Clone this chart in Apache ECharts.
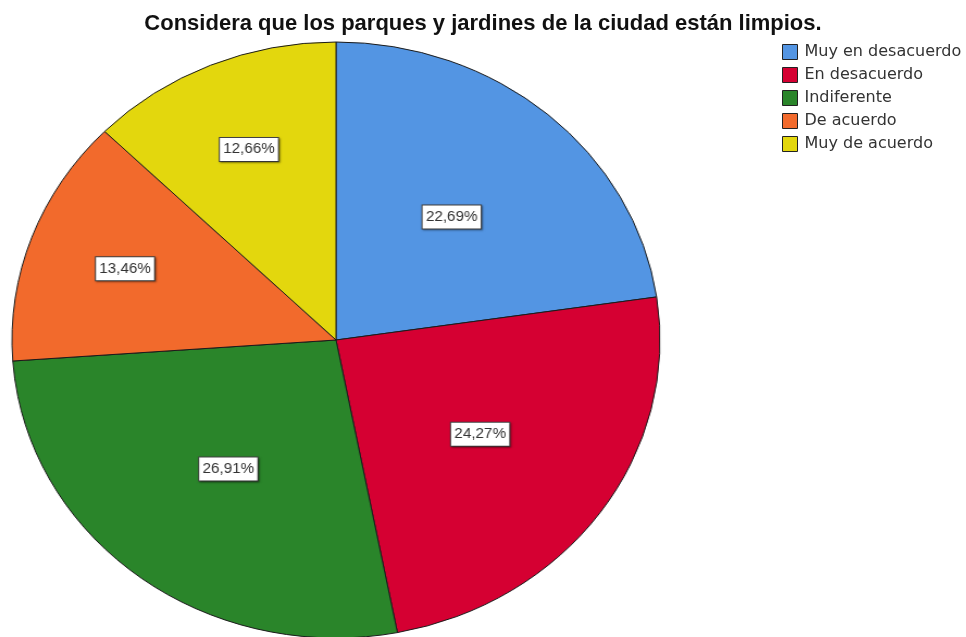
<!DOCTYPE html>
<html>
<head>
<meta charset="utf-8">
<script src="https://cdn.jsdelivr.net/npm/echarts@6/dist/echarts.min.js"></script>
<style>
  html, body { margin: 0; padding: 0; background: #fff; }
  #wrap { position: relative; width: 966px; height: 637px; overflow: hidden; }
  #pie { position: absolute; left: 0; top: 0; width: 966px; height: 637px;
         transform: scaleX(1.0873); transform-origin: 336px 340px; }
  #top { position: absolute; left: 0; top: 0; width: 966px; height: 637px; }
</style>
</head>
<body>
<div id="wrap">
  <div id="pie"></div>
  <div id="top"></div>
</div>
<script>
const titleText = 'Considera que los parques y jardines de la ciudad están limpios.'
const categories = ['Muy en desacuerdo', 'En desacuerdo', 'Indiferente', 'De acuerdo', 'Muy de acuerdo']
const values = [22.69, 24.27, 26.91, 13.46, 12.66]

const colors = ['#5395E3', '#D50032', '#2A852A', '#F26A2C', '#E3D70D']
const CX = 336
const CY = 340

const seriesData = categories.map((name, i) => ({ name: name, value: values[i] }))

const pieChart = echarts.init(document.getElementById('pie'))
pieChart.setOption({
  animation: false,
  color: colors,
  series: [
    {
      type: 'pie',
      center: [CX, CY],
      radius: [0, 298],
      startAngle: 90,
      clockwise: true,
      avoidLabelOverlap: false,
      data: seriesData,
      itemStyle: {
        borderColor: '#1a1a1a',
        borderWidth: 1
      },
      emphasis: { disabled: true },
      label: {
        show: true,
        position: 'inside',
        formatter: p => p.value.toFixed(2).replace('.', ',') + '%',
        fontFamily: 'Liberation Sans',
        fontSize: 14,
        lineHeight: 14,
        color: '#333',
        backgroundColor: '#fff',
        borderColor: '#444',
        borderWidth: 1,
        padding: [5, 3, 4, 3],
        shadowColor: 'rgba(0,0,0,0.35)',
        shadowBlur: 2,
        shadowOffsetX: 1,
        shadowOffsetY: 1
      },
      labelLine: { show: false },
      // small slices get their label further out, as in the original
      labelLayout: function (params) {
        const r = params.labelRect
        const lx = r.x + r.width / 2
        const ly = r.y + r.height / 2
        const k = values[params.dataIndex] < 20 ? 1.36 : 1.07
        return { x: CX + (lx - CX) * k, y: CY + (ly - CY) * k }
      }
    }
  ]
})

const topChart = echarts.init(document.getElementById('top'))
topChart.setOption({
  animation: false,
  color: colors,
  title: {
    text: titleText,
    left: 'center',
    top: 13,
    padding: 0,
    textStyle: {
      fontFamily: 'Liberation Sans',
      fontSize: 22,
      fontWeight: 'bold',
      color: '#111'
    }
  },
  legend: {
    orient: 'vertical',
    left: 782,
    top: 44,
    padding: 0,
    itemWidth: 15,
    itemHeight: 15,
    itemGap: 7,
    icon: 'rect',
    data: categories,
    itemStyle: { borderColor: '#222', borderWidth: 1 },
    textStyle: {
      fontFamily: 'DejaVu Sans',
      fontSize: 16,
      color: '#333',
      padding: [0, 0, 0, 2]
    }
  },
  series: [
    {
      type: 'pie',
      center: [CX, CY],
      radius: [0, 0],
      silent: true,
      data: seriesData,
      label: { show: false },
      labelLine: { show: false }
    }
  ]
})
</script>
</body>
</html>
